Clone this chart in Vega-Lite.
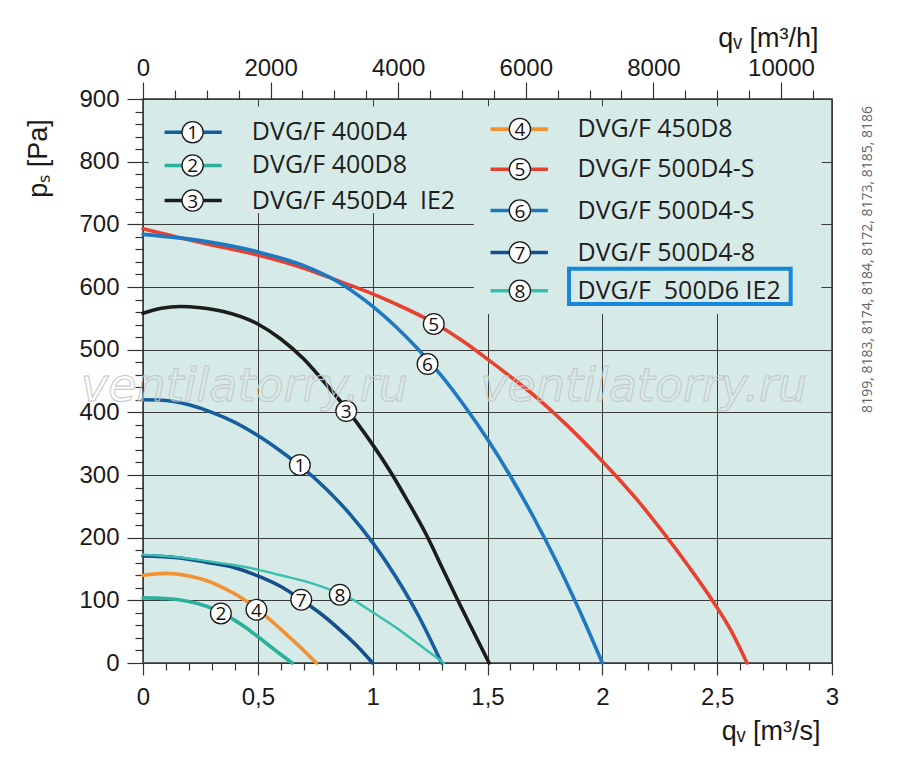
{
  "$schema": "https://vega.github.io/schema/vega-lite/v6.json",
  "width": 689,
  "height": 564,
  "autosize": {"type": "none"},
  "padding": {"left": 143, "top": 99, "right": 68, "bottom": 118},
  "background": "white",
  "config": {
    "view": {"fill": "#d6ebe8", "stroke": "#333333", "strokeWidth": 1.5},
    "axis": {
      "domain": false,
      "labelFont": "Liberation Sans",
      "labelFontSize": 24,
      "labelColor": "#1a1a1a",
      "labelOverlap": false,
      "labelFlush": false,
      "tickCount": 1000,
      "tickColor": "#333333",
      "tickWidth": 1.2,
      "gridColor": "#3a3a3a",
      "gridWidth": 1,
      "titleFont": "Liberation Sans",
      "titleFontSize": 27,
      "titleFontWeight": "normal",
      "titleColor": "#1a1a1a"
    }
  },
  "datasets": {
    "curves": [
      {"id": "1", "q": 0, "p": 420}, {"id": "1", "q": 0.1, "p": 419}, {"id": "1", "q": 0.2, "p": 412},
      {"id": "1", "q": 0.3, "p": 400}, {"id": "1", "q": 0.4, "p": 384}, {"id": "1", "q": 0.5, "p": 363},
      {"id": "1", "q": 0.6, "p": 338}, {"id": "1", "q": 0.683, "p": 315}, {"id": "1", "q": 0.8, "p": 277},
      {"id": "1", "q": 0.9, "p": 238}, {"id": "1", "q": 1.0, "p": 192}, {"id": "1", "q": 1.1, "p": 138},
      {"id": "1", "q": 1.2, "p": 75}, {"id": "1", "q": 1.3, "p": 0},
      {"id": "2", "q": 0, "p": 104}, {"id": "2", "q": 0.1, "p": 103}, {"id": "2", "q": 0.2, "p": 98},
      {"id": "2", "q": 0.273, "p": 91}, {"id": "2", "q": 0.339, "p": 81}, {"id": "2", "q": 0.4, "p": 68},
      {"id": "2", "q": 0.45, "p": 56}, {"id": "2", "q": 0.5, "p": 42}, {"id": "2", "q": 0.57, "p": 22},
      {"id": "2", "q": 0.65, "p": 0},
      {"id": "3", "q": 0, "p": 558}, {"id": "3", "q": 0.08, "p": 566}, {"id": "3", "q": 0.16, "p": 569},
      {"id": "3", "q": 0.25, "p": 567}, {"id": "3", "q": 0.35, "p": 561}, {"id": "3", "q": 0.5, "p": 541},
      {"id": "3", "q": 0.6, "p": 517}, {"id": "3", "q": 0.7, "p": 485}, {"id": "3", "q": 0.785, "p": 450},
      {"id": "3", "q": 0.885, "p": 406}, {"id": "3", "q": 0.974, "p": 362}, {"id": "3", "q": 1.076, "p": 306},
      {"id": "3", "q": 1.15, "p": 260}, {"id": "3", "q": 1.236, "p": 203}, {"id": "3", "q": 1.3, "p": 154},
      {"id": "3", "q": 1.368, "p": 102}, {"id": "3", "q": 1.44, "p": 49}, {"id": "3", "q": 1.507, "p": 0},
      {"id": "4", "q": 0, "p": 140}, {"id": "4", "q": 0.1, "p": 143}, {"id": "4", "q": 0.2, "p": 139},
      {"id": "4", "q": 0.273, "p": 132}, {"id": "4", "q": 0.35, "p": 120}, {"id": "4", "q": 0.42, "p": 106},
      {"id": "4", "q": 0.494, "p": 87}, {"id": "4", "q": 0.55, "p": 70}, {"id": "4", "q": 0.609, "p": 51},
      {"id": "4", "q": 0.68, "p": 27}, {"id": "4", "q": 0.755, "p": 0},
      {"id": "5", "q": 0, "p": 693}, {"id": "5", "q": 0.25, "p": 671}, {"id": "5", "q": 0.5, "p": 651},
      {"id": "5", "q": 0.7, "p": 630}, {"id": "5", "q": 0.857, "p": 609}, {"id": "5", "q": 1.0, "p": 589},
      {"id": "5", "q": 1.1, "p": 573}, {"id": "5", "q": 1.266, "p": 543}, {"id": "5", "q": 1.4, "p": 512},
      {"id": "5", "q": 1.5, "p": 485}, {"id": "5", "q": 1.6, "p": 457}, {"id": "5", "q": 1.719, "p": 422},
      {"id": "5", "q": 1.85, "p": 378}, {"id": "5", "q": 2.0, "p": 322}, {"id": "5", "q": 2.15, "p": 261},
      {"id": "5", "q": 2.27, "p": 206}, {"id": "5", "q": 2.38, "p": 152}, {"id": "5", "q": 2.477, "p": 101},
      {"id": "5", "q": 2.56, "p": 52}, {"id": "5", "q": 2.63, "p": 0},
      {"id": "6", "q": 0, "p": 684}, {"id": "6", "q": 0.25, "p": 674}, {"id": "6", "q": 0.5, "p": 656},
      {"id": "6", "q": 0.7, "p": 634}, {"id": "6", "q": 0.85, "p": 608}, {"id": "6", "q": 1.0, "p": 569},
      {"id": "6", "q": 1.1, "p": 537}, {"id": "6", "q": 1.2, "p": 500}, {"id": "6", "q": 1.3, "p": 458},
      {"id": "6", "q": 1.4, "p": 410}, {"id": "6", "q": 1.5, "p": 357}, {"id": "6", "q": 1.6, "p": 298},
      {"id": "6", "q": 1.7, "p": 233}, {"id": "6", "q": 1.8, "p": 162}, {"id": "6", "q": 1.9, "p": 84},
      {"id": "6", "q": 2.0, "p": 0},
      {"id": "7", "q": 0, "p": 171}, {"id": "7", "q": 0.15, "p": 168}, {"id": "7", "q": 0.273, "p": 161},
      {"id": "7", "q": 0.4, "p": 152}, {"id": "7", "q": 0.5, "p": 139}, {"id": "7", "q": 0.6, "p": 122},
      {"id": "7", "q": 0.689, "p": 101}, {"id": "7", "q": 0.78, "p": 77}, {"id": "7", "q": 0.857, "p": 53},
      {"id": "7", "q": 0.93, "p": 28}, {"id": "7", "q": 1.0, "p": 0},
      {"id": "8", "q": 0, "p": 173}, {"id": "8", "q": 0.15, "p": 169}, {"id": "8", "q": 0.273, "p": 163},
      {"id": "8", "q": 0.4, "p": 156}, {"id": "8", "q": 0.5, "p": 149}, {"id": "8", "q": 0.6, "p": 140},
      {"id": "8", "q": 0.7, "p": 131}, {"id": "8", "q": 0.8, "p": 119}, {"id": "8", "q": 0.9, "p": 104},
      {"id": "8", "q": 1.0, "p": 81}, {"id": "8", "q": 1.1, "p": 57}, {"id": "8", "q": 1.2, "p": 30},
      {"id": "8", "q": 1.31, "p": 0}
    ],
    "tags": [
      {"id": "1", "q": 0.683, "p": 316},
      {"id": "2", "q": 0.339, "p": 79},
      {"id": "3", "q": 0.885, "p": 402},
      {"id": "4", "q": 0.494, "p": 85},
      {"id": "5", "q": 1.266, "p": 541},
      {"id": "6", "q": 1.239, "p": 477},
      {"id": "7", "q": 0.689, "p": 101},
      {"id": "8", "q": 0.857, "p": 109}
    ],
    "legend": [
      {"id": "1", "name": "DVG/F 400D4", "p": 847, "q1": 0.094, "q2": 0.343, "qc": 0.216, "qt": 0.474},
      {"id": "2", "name": "DVG/F 400D8", "p": 794, "q1": 0.094, "q2": 0.343, "qc": 0.216, "qt": 0.474},
      {"id": "3", "name": "DVG/F 450D4\u00a0 IE2", "p": 738, "q1": 0.094, "q2": 0.343, "qc": 0.216, "qt": 0.474},
      {"id": "4", "name": "DVG/F 450D8", "p": 852, "q1": 1.513, "q2": 1.763, "qc": 1.641, "qt": 1.892},
      {"id": "5", "name": "DVG/F 500D4-S", "p": 788, "q1": 1.513, "q2": 1.763, "qc": 1.641, "qt": 1.892},
      {"id": "6", "name": "DVG/F 500D4-S", "p": 722, "q1": 1.513, "q2": 1.763, "qc": 1.641, "qt": 1.892},
      {"id": "7", "name": "DVG/F 500D4-8", "p": 655, "q1": 1.513, "q2": 1.763, "qc": 1.641, "qt": 1.892},
      {"id": "8", "name": "DVG/F\u00a0 500D6 IE2", "p": 594, "q1": 1.513, "q2": 1.763, "qc": 1.641, "qt": 1.892}
    ],
    "masks": [
      {"q1": 0.025, "q2": 2.954, "p1": 718, "p2": 888},
      {"q1": 1.44, "q2": 2.954, "p1": 557, "p2": 888}
    ]
  },
  "layer": [
    {
      "layer": [
        {
          "data": {"name": "masks"},
          "mark": {"type": "rect", "fill": "#d6ebe8", "strokeWidth": 0},
          "encoding": {
            "x": {"field": "q1", "type": "quantitative", "scale": {"domain": [0, 3], "nice": false}},
            "x2": {"field": "q2"},
            "y": {"field": "p1", "type": "quantitative", "scale": {"domain": [0, 900], "nice": false}},
            "y2": {"field": "p2"}
          }
        },
        {
          "data": {"name": "curves"},
          "mark": {"type": "line", "strokeCap": "round", "interpolate": "monotone"},
          "encoding": {
            "x": {
              "field": "q", "type": "quantitative",
              "scale": {"domain": [0, 3], "nice": false},
              "axis": {
                "orient": "bottom",
                "values": [0, 0.1, 0.2, 0.3, 0.4, 0.5, 0.6, 0.7, 0.8, 0.9, 1, 1.1, 1.2, 1.3, 1.4, 1.5, 1.6, 1.7, 1.8, 1.9, 2, 2.1, 2.2, 2.3, 2.4, 2.5, 2.6, 2.7, 2.8, 2.9, 3],
                "labelExpr": "abs(datum.value*2 - round(datum.value*2)) < 0.001 ? replace(format(datum.value, '.1~f'), '.', ',') : ''",
                "tickSize": {"condition": {"test": "abs(datum.value*2 - round(datum.value*2)) < 0.001", "value": 12}, "value": 7},
                "grid": true,
                "gridOpacity": {"condition": {"test": "abs(datum.value*2 - round(datum.value*2)) < 0.001", "value": 1}, "value": 0},
                "labelPadding": 10,
                "title": "qᵥ [m³/s]",
                "titleAnchor": "end",
                "titleAlign": "right",
                "titleX": 677,
                "titlePadding": 9
              }
            },
            "y": {
              "field": "p", "type": "quantitative",
              "scale": {"domain": [0, 900], "nice": false},
              "axis": {
                "orient": "left",
                "values": [0, 20, 40, 60, 80, 100, 120, 140, 160, 180, 200, 220, 240, 260, 280, 300, 320, 340, 360, 380, 400, 420, 440, 460, 480, 500, 520, 540, 560, 580, 600, 620, 640, 660, 680, 700, 720, 740, 760, 780, 800, 820, 840, 860, 880, 900],
                "labelExpr": "datum.value % 100 == 0 ? datum.label : ''",
                "tickSize": {"condition": {"test": "datum.value % 100 == 0", "value": 16}, "value": 8},
                "grid": true,
                "gridOpacity": {"condition": {"test": "datum.value % 100 == 0", "value": 1}, "value": 0},
                "labelPadding": 8,
                "title": "pₛ [Pa]",
                "titleAnchor": "middle",
                "titleY": 59,
                "titlePadding": 26
              }
            },
            "detail": {"field": "id"},
            "color": {
              "field": "id", "type": "nominal", "legend": null,
              "scale": {"domain": ["1", "2", "3", "4", "5", "6", "7", "8"], "range": ["#165f9f", "#2bb09c", "#1c1c1c", "#f29232", "#e8412f", "#1f78c2", "#154f8b", "#39bfae"]}
            },
            "strokeWidth": {"condition": {"test": "datum.id == '8'", "value": 2.4}, "value": 3.6}
          }
        },
        {
          "data": {"name": "legend"},
          "mark": {"type": "rule", "strokeWidth": 3.6},
          "encoding": {
            "x": {"field": "q1", "type": "quantitative", "scale": {"domain": [0, 3], "nice": false}},
            "x2": {"field": "q2"},
            "y": {"field": "p", "type": "quantitative", "scale": {"domain": [0, 900], "nice": false}},
            "color": {"field": "id", "type": "nominal", "legend": null}
          }
        },
        {
          "data": {"name": "legend"},
          "mark": {"type": "point", "shape": "circle", "filled": true, "fill": "white", "stroke": "#1a1a1a", "strokeWidth": 1.3, "size": 450, "opacity": 1},
          "encoding": {
            "x": {"field": "qc", "type": "quantitative", "scale": {"domain": [0, 3], "nice": false}},
            "y": {"field": "p", "type": "quantitative", "scale": {"domain": [0, 900], "nice": false}}
          }
        },
        {
          "data": {"name": "legend"},
          "mark": {"type": "text", "font": "Open Sans", "fontSize": 19, "color": "#111111", "baseline": "middle", "align": "center", "dy": 1},
          "encoding": {
            "x": {"field": "qc", "type": "quantitative", "scale": {"domain": [0, 3], "nice": false}},
            "y": {"field": "p", "type": "quantitative", "scale": {"domain": [0, 900], "nice": false}},
            "text": {"field": "id"}
          }
        },
        {
          "data": {"name": "legend"},
          "mark": {"type": "text", "font": "Open Sans", "fontSize": 25, "color": "#1e1e1e", "baseline": "middle", "align": "left"},
          "encoding": {
            "x": {"field": "qt", "type": "quantitative", "scale": {"domain": [0, 3], "nice": false}},
            "y": {"field": "p", "type": "quantitative", "scale": {"domain": [0, 900], "nice": false}},
            "text": {"field": "name"}
          }
        },
        {
          "data": {"name": "tags"},
          "mark": {"type": "point", "shape": "circle", "filled": true, "fill": "white", "stroke": "#1a1a1a", "strokeWidth": 1.3, "size": 430, "opacity": 1},
          "encoding": {
            "x": {"field": "q", "type": "quantitative", "scale": {"domain": [0, 3], "nice": false}},
            "y": {"field": "p", "type": "quantitative", "scale": {"domain": [0, 900], "nice": false}}
          }
        },
        {
          "data": {"name": "tags"},
          "mark": {"type": "text", "font": "Open Sans", "fontSize": 19, "color": "#111111", "baseline": "middle", "align": "center", "dy": 1},
          "encoding": {
            "x": {"field": "q", "type": "quantitative", "scale": {"domain": [0, 3], "nice": false}},
            "y": {"field": "p", "type": "quantitative", "scale": {"domain": [0, 900], "nice": false}},
            "text": {"field": "id"}
          }
        },
        {
          "data": {"values": [{"q1": 1.855, "q2": 2.82, "p1": 573, "p2": 629}]},
          "mark": {"type": "rect", "fill": null, "fillOpacity": 0, "stroke": "#1787dc", "strokeWidth": 4},
          "encoding": {
            "x": {"field": "q1", "type": "quantitative", "scale": {"domain": [0, 3], "nice": false}},
            "x2": {"field": "q2"},
            "y": {"field": "p1", "type": "quantitative", "scale": {"domain": [0, 900], "nice": false}},
            "y2": {"field": "p2"}
          }
        },
        {
          "data": {"values": [{"mark": "ventilatorry.ru", "q": -0.27, "p": 418}, {"mark": "ventilatorry.ru", "q": 1.469, "p": 418}]},
          "mark": {"type": "text", "font": "DejaVu Sans", "fontStyle": "oblique", "fontSize": 46, "align": "left", "baseline": "alphabetic", "fillOpacity": 0, "stroke": "#c6c6c6", "strokeWidth": 1},
          "encoding": {
            "x": {"field": "q", "type": "quantitative", "scale": {"domain": [0, 3], "nice": false}},
            "y": {"field": "p", "type": "quantitative", "scale": {"domain": [0, 900], "nice": false}},
            "text": {"field": "mark"}
          }
        },
        {
          "data": {"values": [{"codes": "8199, 8183, 8174, 8184, 8172, 8173, 8185, 8186", "q": 3.157, "p": 889}]},
          "mark": {"type": "text", "font": "Open Sans", "fontSize": 14, "color": "#666666", "angle": 270, "align": "right", "baseline": "middle"},
          "encoding": {
            "x": {"field": "q", "type": "quantitative", "scale": {"domain": [0, 3], "nice": false}},
            "y": {"field": "p", "type": "quantitative", "scale": {"domain": [0, 900], "nice": false}},
            "text": {"field": "codes"}
          }
        }
      ]
    },
    {
      "data": {"values": [{"h": 0}, {"h": 10800}]},
      "mark": {"type": "point", "opacity": 0, "size": 0},
      "encoding": {
        "x": {
          "field": "h", "type": "quantitative",
          "scale": {"domain": [0, 10800], "nice": false},
          "axis": {
            "orient": "top",
            "values": [0, 500, 1000, 1500, 2000, 2500, 3000, 3500, 4000, 4500, 5000, 5500, 6000, 6500, 7000, 7500, 8000, 8500, 9000, 9500, 10000, 10500],
            "labelExpr": "datum.value % 2000 == 0 ? format(datum.value, 'd') : ''",
            "tickSize": {"condition": {"test": "datum.value % 2000 == 0", "value": 17}, "value": 9},
            "grid": false,
            "labelPadding": 2,
            "title": "qᵥ [m³/h]",
            "titleAnchor": "end",
            "titleAlign": "right",
            "titleX": 675,
            "titlePadding": 4
          }
        }
      }
    }
  ],
  "resolve": {"scale": {"x": "independent"}, "axis": {"x": "independent"}}
}
